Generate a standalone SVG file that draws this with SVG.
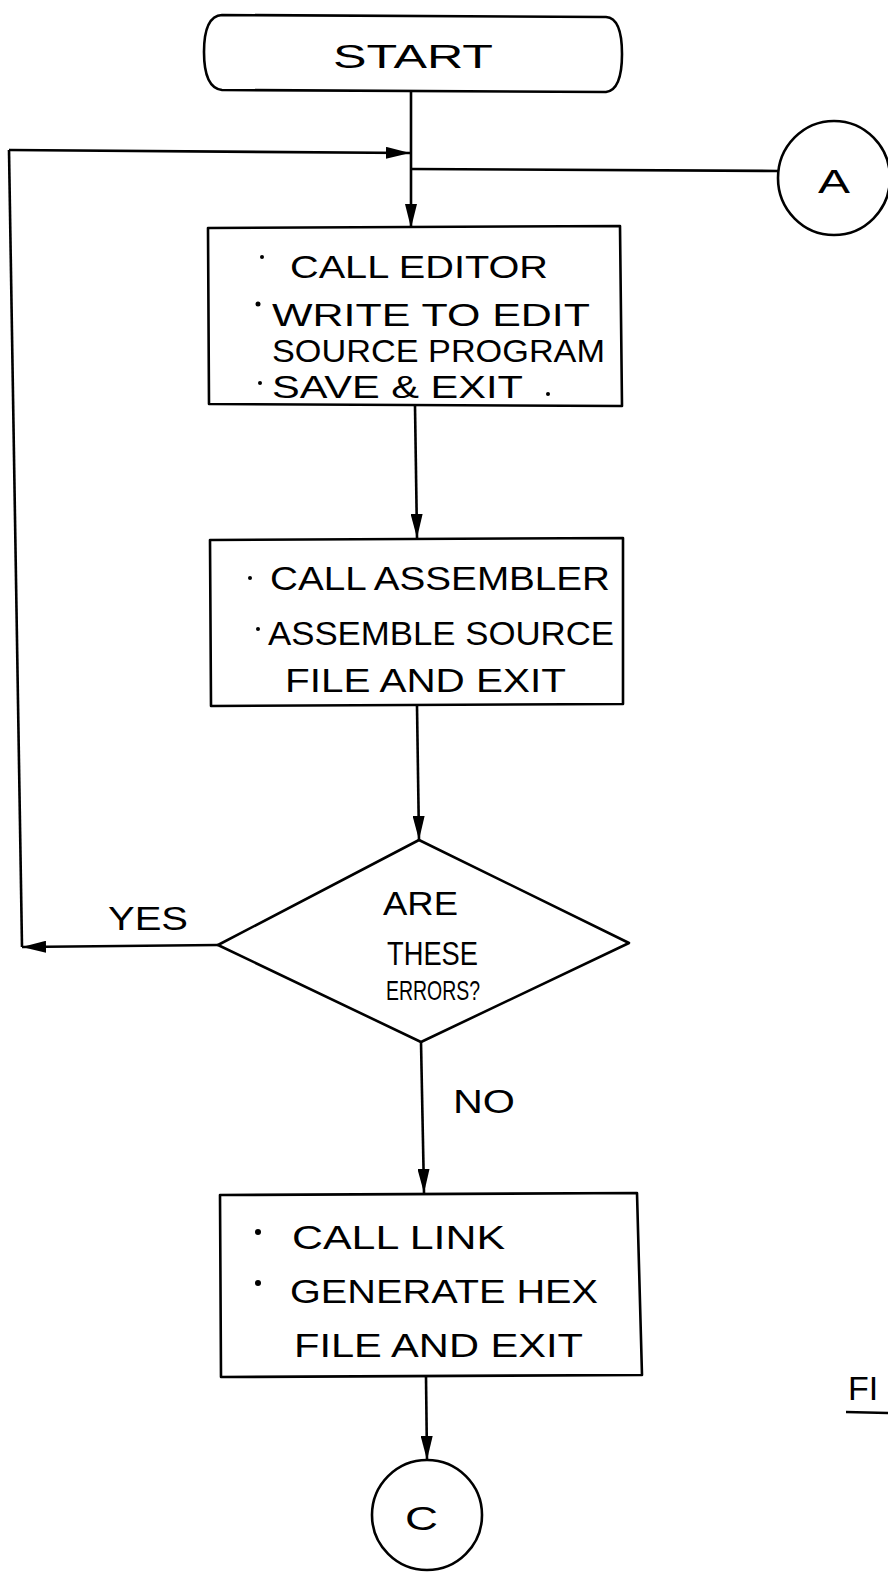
<svg xmlns="http://www.w3.org/2000/svg" width="888" height="1572" viewBox="0 0 888 1572">
  <style>
    .shape { fill: none; stroke: #000; stroke-width: 2.6; stroke-linejoin: round; }
    .wire { fill: none; stroke: #000; stroke-width: 2.6; }
    .lbl { font-family: "Liberation Sans", "DejaVu Sans", sans-serif; font-size: 34px; fill: #000; }
    .mid { font-size: 31px; }
    .sm { font-size: 28px; }
    .dot { fill: #000; }
  </style>
  <defs>
    <marker id="head" viewBox="0 0 24 12" refX="24" refY="6" markerWidth="24" markerHeight="12" markerUnits="userSpaceOnUse" orient="auto">
      <path d="M0,0 L24,6 L0,12 Z" fill="#000"/>
    </marker>
  </defs>
  <rect width="888" height="1572" fill="#fff"/>

  <!-- connectors -->
  <g id="connectors">
    <path class="wire" d="M411,92 L411,228" marker-end="url(#head)"/>
    <path class="wire" d="M9,150 L410,153" marker-end="url(#head)"/>
    <path class="wire" d="M411,169 L778,171"/>
    <path class="wire" d="M415,406 L417,538" marker-end="url(#head)"/>
    <path class="wire" d="M417,706 L419,840" marker-end="url(#head)"/>
    <path class="wire" d="M218,945 L22,947" marker-end="url(#head)"/>
    <path class="wire" d="M22,947 L9,150"/>
    <path class="wire" d="M421,1042 L424,1193" marker-end="url(#head)"/>
    <path class="wire" d="M426,1377 L427,1460" marker-end="url(#head)"/>
    <text class="lbl" x="108" y="930" textLength="80" lengthAdjust="spacingAndGlyphs">YES</text>
    <text class="lbl" x="453" y="1113" textLength="62" lengthAdjust="spacingAndGlyphs">NO</text>
  </g>

  <!-- start terminal -->
  <g id="start">
    <path class="shape" d="M222,15 L606,17 Q622,18 622,54 Q622,90 606,92 L222,90 Q204,88 204,52 Q204,16 222,15 Z"/>
    <text class="lbl" x="333" y="68" textLength="160" lengthAdjust="spacingAndGlyphs">START</text>
  </g>

  <!-- off-page connector A -->
  <g id="connA">
    <ellipse class="shape" cx="834" cy="178" rx="56" ry="57"/>
    <text class="lbl" x="818" y="193" textLength="32" lengthAdjust="spacingAndGlyphs">A</text>
  </g>

  <!-- editor step -->
  <g id="editor">
    <path class="shape" d="M208,228 L620,226 L622,406 L209,404 Z"/>
    <circle class="dot" cx="262" cy="257" r="2"/>
    <text class="lbl mid" x="290" y="278" textLength="258" lengthAdjust="spacingAndGlyphs">CALL EDITOR</text>
    <circle class="dot" cx="258" cy="304" r="2.5"/>
    <text class="lbl mid" x="272" y="326" textLength="318" lengthAdjust="spacingAndGlyphs">WRITE TO EDIT</text>
    <text class="lbl mid" x="272" y="362" textLength="333" lengthAdjust="spacingAndGlyphs">SOURCE PROGRAM</text>
    <circle class="dot" cx="260" cy="383" r="2"/>
    <text class="lbl mid" x="272" y="398" textLength="251" lengthAdjust="spacingAndGlyphs">SAVE &amp; EXIT</text>
    <circle class="dot" cx="548" cy="394" r="2"/>
  </g>

  <!-- assembler step -->
  <g id="assembler">
    <path class="shape" d="M210,540 L623,538 L623,704 L211,706 Z"/>
    <circle class="dot" cx="250" cy="578" r="2"/>
    <text class="lbl" x="270" y="590" textLength="340" lengthAdjust="spacingAndGlyphs">CALL ASSEMBLER</text>
    <circle class="dot" cx="258" cy="629" r="2"/>
    <text class="lbl" x="268" y="645" textLength="346" lengthAdjust="spacingAndGlyphs">ASSEMBLE SOURCE</text>
    <text class="lbl" x="285" y="692" textLength="281" lengthAdjust="spacingAndGlyphs">FILE AND EXIT</text>
  </g>

  <!-- error decision -->
  <g id="decision">
    <path class="shape" d="M419,840 L629,943 L421,1042 L218,945 Z"/>
    <text class="lbl" x="383" y="915" textLength="75" lengthAdjust="spacingAndGlyphs">ARE</text>
    <text class="lbl" x="387" y="965" textLength="91" lengthAdjust="spacingAndGlyphs">THESE</text>
    <text class="lbl sm" x="386" y="1000" textLength="94" lengthAdjust="spacingAndGlyphs">ERRORS?</text>
  </g>

  <!-- link step -->
  <g id="link">
    <path class="shape" d="M220,1195 L637,1193 L642,1375 L221,1377 Z"/>
    <circle class="dot" cx="258" cy="1232" r="3"/>
    <text class="lbl" x="292" y="1249" textLength="213" lengthAdjust="spacingAndGlyphs">CALL LINK</text>
    <circle class="dot" cx="258" cy="1283" r="3"/>
    <text class="lbl" x="290" y="1303" textLength="308" lengthAdjust="spacingAndGlyphs">GENERATE  HEX</text>
    <text class="lbl" x="294" y="1357" textLength="289" lengthAdjust="spacingAndGlyphs">FILE AND EXIT</text>
  </g>

  <!-- off-page connector C -->
  <g id="connC">
    <circle class="shape" cx="427" cy="1515" r="55"/>
    <text class="lbl" x="405" y="1530" textLength="33" lengthAdjust="spacingAndGlyphs">C</text>
  </g>

  <!-- figure caption, running off the sheet edge -->
  <g id="caption">
    <text class="lbl" x="848" y="1400">FI</text>
    <path class="wire" d="M846,1412 L888,1413"/>
  </g>
</svg>
